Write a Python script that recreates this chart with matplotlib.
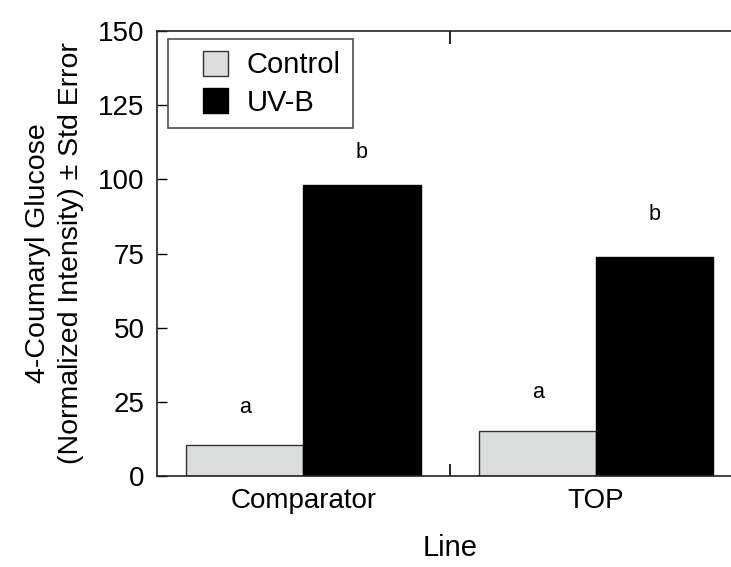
import numpy as np
import matplotlib
matplotlib.use("Agg")
import matplotlib.pyplot as plt
from matplotlib.ticker import FixedLocator
from matplotlib.legend_handler import HandlerPatch
from matplotlib.patches import Rectangle

plt.rcParams['font.family'] = ['Liberation Sans', 'DejaVu Sans']

lines = ["Comparator", "TOP"]
treatments = ["Control", "UV-B"]
control = [10.5, 15.2]
uvb = [98.2, 73.8]
control_letters = ["a", "a"]
uvb_letters = ["b", "b"]
control_letter_y = [23, 28]
uvb_letter_y = [109, 88]
yticks = [0, 25, 50, 75, 100, 125, 150]


def square_patch(legend, orig_handle, xdescent, ydescent, width, height, fontsize):
    # square sits at the right end of the handle box, leaving extra room on the left
    side = height
    return Rectangle((width - side - xdescent, -ydescent), side, side)


fig = plt.figure(figsize=(7.31, 5.67), dpi=100)
ax = fig.add_axes([0.2148, 0.1605, 0.801, 0.7848])

x = np.arange(1, len(lines) + 1)
w = 0.4
bars_c = ax.bar(x - w / 2, control, width=w, color="#dcdedd", edgecolor="#333333",
                linewidth=1.0, zorder=2)
bars_u = ax.bar(x + w / 2, uvb, width=w, color="black", edgecolor="black",
                linewidth=1.0, zorder=2)

for xi, lab, yy in zip(x - w / 2, control_letters, control_letter_y):
    ax.text(xi, yy, lab, ha="center", va="center", fontsize=15.5)
for xi, lab, yy in zip(x + w / 2, uvb_letters, uvb_letter_y):
    ax.text(xi, yy, lab, ha="center", va="center", fontsize=15.5)

ax.set_xlim(0.5, 2.5)
ax.set_ylim(0, 150)
ax.set_yticks(yticks)
ax.set_xticks(x)
ax.set_xticklabels(lines, fontsize=20)
ax.xaxis.set_minor_locator(FixedLocator([1.5]))
ax.tick_params(axis="x", which="major", length=0, pad=9)
ax.tick_params(axis="x", which="minor", direction="in", length=9, width=1.2,
               top=True, bottom=True)
ax.tick_params(axis="y", direction="in", length=7, width=1.0, right=True,
               labelsize=20, pad=9)

for s in ax.spines.values():
    s.set_linewidth(1.2)
    s.set_color("#222222")

ax.set_xlabel("Line", fontsize=21, labelpad=14)
ax.set_ylabel("4-Coumaryl Glucose\n(Normalized Intensity) \u00b1 Std Error",
              fontsize=20.5, labelpad=10, linespacing=1.35)

leg = ax.legend([bars_c[0], bars_u[0]], treatments, loc="upper left",
                fontsize=21, frameon=True, fancybox=False,
                edgecolor="#222222", handlelength=1.65, handleheight=0.95,
                borderpad=0.4, labelspacing=0.3, handletextpad=0.65,
                bbox_to_anchor=(0.019, 0.982), borderaxespad=0,
                handler_map={Rectangle: HandlerPatch(patch_func=square_patch)})
leg.get_frame().set_linewidth(1.2)

fig.savefig("out.png", dpi=100)
